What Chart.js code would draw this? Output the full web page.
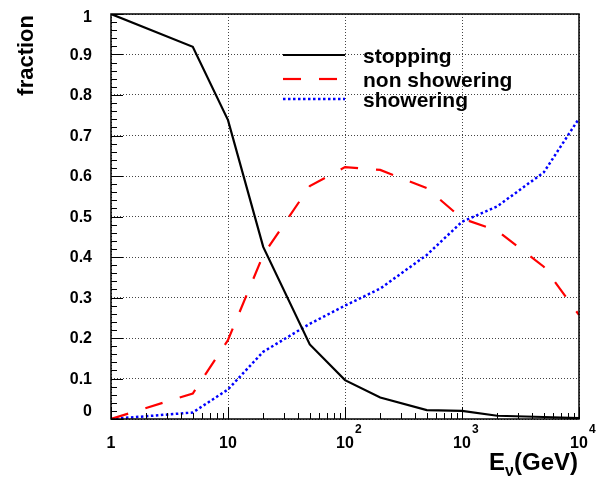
<!DOCTYPE html>
<html>
<head>
<meta charset="utf-8">
<script src="https://cdn.jsdelivr.net/npm/chart.js@4"></script>
<style>
  html, body { margin: 0; padding: 0; background: #fff; }
  #wrap { width: 597px; height: 483px; }
</style>
</head>
<body>
<div id="wrap"><canvas id="chart" width="597" height="483"></canvas></div>
<script>
// neutrino energy (GeV) sample points
const energies = [1, 5, 10, 20, 50, 100, 200, 500, 1000, 2000, 5000, 10000];

// fractions
const stopping      = [1.0, 0.919, 0.738, 0.425, 0.184, 0.096, 0.053, 0.022, 0.020, 0.008, 0.005, 0.002];
const nonShowering  = [0.0, 0.063, 0.195, 0.405, 0.575, 0.622, 0.615, 0.570, 0.495, 0.465, 0.376, 0.257];
const showering     = [0.0, 0.016, 0.073, 0.166, 0.235, 0.280, 0.322, 0.405, 0.487, 0.525, 0.609, 0.742];

// axis ticks
const xDecades = [1, 10, 100, 1000, 10000];
const xTickLabels = [['1', ''], ['10', ''], ['10', '2'], ['10', '3'], ['10', '4']];
const yTicks = [0, 0.1, 0.2, 0.3, 0.4, 0.5, 0.6, 0.7, 0.8, 0.9, 1];
const yTickLabels = ['0', '0.1', '0.2', '0.3', '0.4', '0.5', '0.6', '0.7', '0.8', '0.9', '1'];
const seriesLabels = ['stopping', 'non showering', 'showering'];

const FONT = '"Liberation Sans", Arial, Helvetica, sans-serif';

const toPoints = (vals) => energies.map((e, i) => ({ x: e, y: vals[i] }));

/**
 * Frame, inward ticks, tick labels, axis titles and the legend box
 */
const rootStyle = {
  id: 'rootStyle',
  afterDraw(chart) {
    const ctx = chart.ctx;
    const area = chart.chartArea;
    const xs = chart.scales.x;
    const ys = chart.scales.y;

    ctx.save();
    ctx.strokeStyle = '#000';
    ctx.lineWidth = 1;

    // y ticks (inward): major every 0.1, minor every 0.02
    for (let k = 0; k <= 50; k++) {
      const py = Math.round(ys.getPixelForValue(k / 50)) + 0.5;
      const len = (k % 5 === 0) ? 12 : 6;
      ctx.beginPath();
      ctx.moveTo(area.left, py);
      ctx.lineTo(area.left + len, py);
      ctx.stroke();
    }

    // x ticks (inward): decades + 2..9
    for (let d = 0; d < 4; d++) {
      for (let m = 1; m <= 10; m++) {
        const v = Math.pow(10, d) * m;
        const px = Math.round(xs.getPixelForValue(v)) + 0.5;
        const len = (m === 1 || m === 10) ? 12 : 6;
        ctx.beginPath();
        ctx.moveTo(px, area.bottom);
        ctx.lineTo(px, area.bottom - len);
        ctx.stroke();
      }
    }

    // frame
    ctx.lineWidth = 1.5;
    ctx.strokeRect(area.left, area.top, area.right - area.left, area.bottom - area.top);

    ctx.fillStyle = '#000';

    // y tick labels (end labels nudged inside like ROOT does)
    ctx.font = 'bold 16px ' + FONT;
    ctx.textAlign = 'right';
    ctx.textBaseline = 'middle';
    yTicks.forEach((v, i) => {
      let py = ys.getPixelForValue(v) + 1;
      if (i === 0) py -= 8;
      if (i === yTicks.length - 1) py += 3;
      ctx.fillText(yTickLabels[i], 92, py);
    });

    // x tick labels with exponents
    ctx.textBaseline = 'alphabetic';
    xDecades.forEach((v, i) => {
      const px = xs.getPixelForValue(v);
      const [base, exp] = xTickLabels[i];
      ctx.font = 'bold 16px ' + FONT;
      ctx.textAlign = 'center';
      ctx.fillText(base, px, 448);
      if (exp) {
        const w = ctx.measureText(base).width;
        ctx.font = 'bold 12px ' + FONT;
        ctx.textAlign = 'left';
        ctx.fillText(exp, px + w / 2 + 1, 433);
      }
    });

    // x title: E_nu(GeV)
    ctx.font = 'bold 24px ' + FONT;
    const wRest = ctx.measureText('(GeV)').width;
    const wE = ctx.measureText('E').width;
    ctx.font = 'bold 16px ' + FONT;
    const wNu = ctx.measureText('\u03BD').width;
    const tx = 578 - wRest - wNu - wE;
    ctx.textAlign = 'left';
    ctx.font = 'bold 24px ' + FONT;
    ctx.fillText('E', tx, 470);
    ctx.font = 'bold 16px ' + FONT;
    ctx.fillText('\u03BD', tx + wE, 476);
    ctx.font = 'bold 24px ' + FONT;
    ctx.fillText('(GeV)', tx + wE + wNu, 470);

    // y title
    ctx.save();
    ctx.translate(33, 15);
    ctx.rotate(-Math.PI / 2);
    ctx.font = 'bold 22px ' + FONT;
    ctx.textAlign = 'right';
    ctx.fillText('fraction', 0, 0);
    ctx.restore();

    // legend
    const legendY = [55, 79, 99];
    chart.data.datasets.forEach((ds, i) => {
      ctx.save();
      ctx.strokeStyle = ds.borderColor;
      ctx.lineWidth = ds.borderWidth;
      ctx.setLineDash(ds.borderDash || []);
      ctx.beginPath();
      ctx.moveTo(283, legendY[i]);
      ctx.lineTo(345, legendY[i]);
      ctx.stroke();
      ctx.restore();
      ctx.font = 'bold 21px ' + FONT;
      ctx.textAlign = 'left';
      ctx.fillText(ds.label, 363, legendY[i] + 8);
    });

    ctx.restore();
  }
};

const ctx = document.getElementById('chart').getContext('2d');

new Chart(ctx, {
  type: 'line',
  data: {
    datasets: [
      {
        label: seriesLabels[0],
        data: toPoints(stopping),
        borderColor: '#000000',
        borderWidth: 2.2,
        borderDash: [],
        pointRadius: 0,
        tension: 0
      },
      {
        label: seriesLabels[1],
        data: toPoints(nonShowering),
        borderColor: '#ff0000',
        borderWidth: 2.2,
        borderDash: [18, 18],
        pointRadius: 0,
        tension: 0
      },
      {
        label: seriesLabels[2],
        data: toPoints(showering),
        borderColor: '#0000ff',
        borderWidth: 2.5,
        borderDash: [2.5, 2.5],
        pointRadius: 0,
        tension: 0
      }
    ]
  },
  options: {
    responsive: false,
    animation: false,
    devicePixelRatio: 1,
    layout: { padding: { left: 0, right: 18, top: 14, bottom: 0 } },
    plugins: {
      legend: { display: false },
      tooltip: { enabled: false }
    },
    scales: {
      x: {
        type: 'logarithmic',
        min: 1,
        max: 10000,
        afterBuildTicks(scale) {
          scale.ticks = xDecades.map(v => ({ value: v }));
        },
        afterFit(scale) {
          scale.height = 64;
        },
        ticks: { display: false },
        grid: { color: '#444', lineWidth: 1, drawTicks: false },
        border: { display: false, dash: [1, 2] }
      },
      y: {
        min: 0,
        max: 1,
        afterBuildTicks(scale) {
          scale.ticks = yTicks.map(v => ({ value: v }));
        },
        afterFit(scale) {
          scale.width = 111;
        },
        ticks: { display: false },
        grid: { color: '#444', lineWidth: 1, drawTicks: false },
        border: { display: false, dash: [1, 2] }
      }
    }
  },
  plugins: [rootStyle]
});
</script>
</body>
</html>
